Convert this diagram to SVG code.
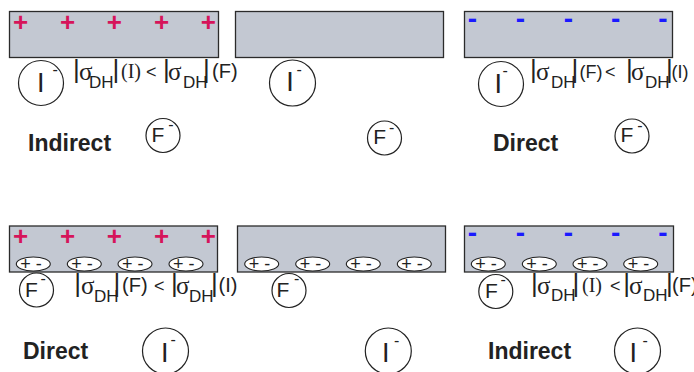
<svg xmlns="http://www.w3.org/2000/svg" width="694" height="372" viewBox="0 0 694 372">
<style>
.slab{fill:#c3c8d2;stroke:#2b2b2b;stroke-width:1.3}
.pl{font-family:"Liberation Sans",Arial,sans-serif;font-weight:bold;font-size:26px;fill:#d6145a;text-anchor:middle}
.mi{font-family:"Liberation Sans",Arial,sans-serif;font-weight:bold;font-size:28px;fill:#1a1aff;text-anchor:middle}
.ion{fill:#fff;stroke:#222;stroke-width:1.2}
.dip{fill:#fff;stroke:#222;stroke-width:1.1}
.dt{font-family:"Liberation Sans",Arial,sans-serif;font-size:18px;fill:#222}
.big{font-family:"Liberation Sans",Arial,sans-serif;font-size:27px;fill:#222}
.fF{font-family:"Liberation Sans",Arial,sans-serif;font-size:21px;fill:#222}
.sup{font-family:"Liberation Sans",Arial,sans-serif;font-size:16px;fill:#222}
.lab{font-family:"Liberation Sans",Arial,sans-serif;font-weight:bold;font-size:23px;fill:#222}
.fm{font-family:"Liberation Sans",Arial,sans-serif;font-size:20px;fill:#222}
.fs{font-family:"Liberation Sans",Arial,sans-serif;font-size:18px;fill:#222}
.bar{font-family:"Liberation Sans",Arial,sans-serif;font-size:26px;fill:#222}
.sig{font-family:"Liberation Serif","Times New Roman",serif;font-size:25px;fill:#222}
.sub{font-family:"Liberation Sans",Arial,sans-serif;font-size:17px;fill:#222}
.ser{font-family:"Liberation Serif","Times New Roman",serif;font-size:20px;fill:#222}
.lt{font-family:"Liberation Sans",Arial,sans-serif;font-size:18px;fill:#222}
</style>

<!-- Top left panel -->
<g id="slab-top-left">
<rect class="slab" x="9.5" y="11.5" width="209" height="46"/>
<text class="pl" x="20.7" y="31">+</text>
<text class="pl" x="67.7" y="31">+</text>
<text class="pl" x="114.3" y="31">+</text>
<text class="pl" x="161.5" y="31">+</text>
<text class="pl" x="208.3" y="31">+</text>
</g>
<g id="iodide-top-left">
<circle class="ion" cx="41" cy="83" r="22.5"/>
<text class="big" x="37" y="92">I</text>
<text class="sup" x="52.5" y="75.2">-</text>
</g>
<g id="formula-top-left">
<text class="bar" x="73" y="78">|</text>
<text class="sig" x="79" y="80">σ</text>
<text class="sub" x="89" y="88">DH</text>
<text class="bar" x="112.6" y="78">|</text>
<text class="ser" x="121" y="78">(I)</text>
<text class="lt" x="146" y="78">&lt;</text>
<text class="bar" x="163" y="78">|</text>
<text class="sig" x="168" y="80">σ</text>
<text class="sub" x="183" y="88">DH</text>
<text class="bar" x="203" y="78">|</text>
<text class="fm" x="212" y="78">(F)</text>
</g>
<g id="label-top-left"><text class="lab" x="28" y="150.5">Indirect</text></g>
<g id="fluoride-top-left">
<circle class="ion" cx="163" cy="135.5" r="17"/>
<text class="fF" x="151.6" y="141.5">F</text>
<text class="sup" x="168.2" y="130.2">-</text>
</g>

<!-- Top middle panel -->
<g id="slab-top-middle">
<rect class="slab" x="235.5" y="11.5" width="208" height="46"/>
</g>
<g id="iodide-top-middle">
<circle class="ion" cx="292.5" cy="83" r="23"/>
<text class="big" x="286.2" y="91">I</text>
<text class="sup" x="296.5" y="74.9">-</text>
</g>
<g id="fluoride-top-middle">
<circle class="ion" cx="384.5" cy="138" r="17"/>
<text class="fF" x="373.3" y="144">F</text>
<text class="sup" x="388.9" y="132.6">-</text>
</g>

<!-- Top right panel -->
<g id="slab-top-right">
<rect class="slab" x="464.5" y="11.5" width="208" height="46"/>
<text class="mi" x="472.3" y="27.5">-</text>
<text class="mi" x="520.3" y="27.5">-</text>
<text class="mi" x="568.3" y="27.5">-</text>
<text class="mi" x="615.7" y="27.5">-</text>
<text class="mi" x="663" y="27.5">-</text>
</g>
<g id="iodide-top-right">
<circle class="ion" cx="501" cy="84" r="22.5"/>
<text class="big" x="494.5" y="93">I</text>
<text class="sup" x="502.5" y="76.1">-</text>
</g>
<g id="formula-top-right">
<text class="bar" x="530" y="78">|</text>
<text class="sig" x="536" y="80">σ</text>
<text class="sub" x="551" y="88">DH</text>
<text class="bar" x="571.6" y="78">|</text>
<text class="fs" x="579.5" y="78">(F)</text>
<text class="lt" x="605" y="78">&lt;</text>
<text class="bar" x="626" y="78">|</text>
<text class="sig" x="631" y="80">σ</text>
<text class="sub" x="645" y="88">DH</text>
<text class="bar" x="666" y="78">|</text>
<text class="fs" x="671.5" y="78">(I)</text>
</g>
<g id="label-top-right"><text class="lab" x="493" y="150.5">Direct</text></g>
<g id="fluoride-top-right">
<circle class="ion" cx="632" cy="136" r="17"/>
<text class="fF" x="620.6" y="142">F</text>
<text class="sup" x="637.2" y="130.6">-</text>
</g>

<!-- Bottom left panel -->
<g id="slab-bottom-left">
<rect class="slab" x="9.5" y="226" width="208" height="46"/>
<text class="pl" x="20.7" y="245">+</text>
<text class="pl" x="67.7" y="245">+</text>
<text class="pl" x="114.3" y="245">+</text>
<text class="pl" x="161.5" y="245">+</text>
<text class="pl" x="208.3" y="245">+</text>
<ellipse class="dip" cx="33.3" cy="264" rx="17" ry="7"/>
<ellipse class="dip" cx="84.3" cy="264" rx="17" ry="7"/>
<ellipse class="dip" cx="135" cy="264" rx="17" ry="7"/>
<ellipse class="dip" cx="186" cy="264" rx="17" ry="7"/>
<text class="dt" x="20.3" y="269.5">+ -</text>
<text class="dt" x="71.3" y="269.5">+ -</text>
<text class="dt" x="122" y="269.5">+ -</text>
<text class="dt" x="173" y="269.5">+ -</text>
</g>
<g id="fluoride-bottom-left">
<circle class="ion" cx="36.5" cy="290" r="17"/>
<text class="fF" x="25" y="296.5">F</text>
<text class="sup" x="40.5" y="283.6">-</text>
</g>
<g id="formula-bottom-left">
<text class="bar" x="74.3" y="292">|</text>
<text class="sig" x="81" y="294">σ</text>
<text class="sub" x="94" y="302">DH</text>
<text class="bar" x="113.6" y="292">|</text>
<text class="fm" x="122" y="292">(F)</text>
<text class="lt" x="154" y="292">&lt;</text>
<text class="bar" x="171" y="292">|</text>
<text class="sig" x="176" y="294">σ</text>
<text class="sub" x="189" y="302">DH</text>
<text class="bar" x="211" y="292">|</text>
<text class="fm" x="218.5" y="292">(I)</text>
</g>
<g id="label-bottom-left"><text class="lab" x="23" y="358.5">Direct</text></g>
<g id="iodide-bottom-left">
<circle class="ion" cx="165.5" cy="351" r="23"/>
<text class="big" x="161" y="362">I</text>
<text class="sup" x="170.5" y="345.1">-</text>
</g>

<!-- Bottom middle panel -->
<g id="slab-bottom-middle">
<rect class="slab" x="237.5" y="226" width="208" height="46"/>
<ellipse class="dip" cx="261.7" cy="264" rx="17" ry="7"/>
<ellipse class="dip" cx="312.7" cy="264" rx="17" ry="7"/>
<ellipse class="dip" cx="363.3" cy="264" rx="17" ry="7"/>
<ellipse class="dip" cx="414.3" cy="264" rx="17" ry="7"/>
<text class="dt" x="248.7" y="269.5">+ -</text>
<text class="dt" x="299.7" y="269.5">+ -</text>
<text class="dt" x="350.3" y="269.5">+ -</text>
<text class="dt" x="401.3" y="269.5">+ -</text>
</g>
<g id="fluoride-bottom-middle">
<circle class="ion" cx="289" cy="290.5" r="17"/>
<text class="fF" x="276.6" y="297">F</text>
<text class="sup" x="293.9" y="283.6">-</text>
</g>
<g id="iodide-bottom-middle">
<circle class="ion" cx="388.3" cy="351" r="23"/>
<text class="big" x="382" y="362">I</text>
<text class="sup" x="394" y="345.6">-</text>
</g>

<!-- Bottom right panel -->
<g id="slab-bottom-right">
<rect class="slab" x="464.5" y="226" width="209" height="46"/>
<text class="mi" x="472.3" y="241.5">-</text>
<text class="mi" x="520.3" y="241.5">-</text>
<text class="mi" x="568.3" y="241.5">-</text>
<text class="mi" x="615.7" y="241.5">-</text>
<text class="mi" x="663" y="241.5">-</text>
<ellipse class="dip" cx="488.3" cy="264" rx="17" ry="7"/>
<ellipse class="dip" cx="539.3" cy="264" rx="17" ry="7"/>
<ellipse class="dip" cx="590" cy="264" rx="17" ry="7"/>
<ellipse class="dip" cx="640.7" cy="264" rx="17" ry="7"/>
<text class="dt" x="475.3" y="269.5">+ -</text>
<text class="dt" x="526.3" y="269.5">+ -</text>
<text class="dt" x="577" y="269.5">+ -</text>
<text class="dt" x="627.7" y="269.5">+ -</text>
</g>
<g id="fluoride-bottom-right">
<circle class="ion" cx="495.8" cy="291.5" r="17"/>
<text class="fF" x="485" y="298">F</text>
<text class="sup" x="500.5" y="285.1">-</text>
</g>
<g id="formula-bottom-right">
<text class="bar" x="531" y="292">|</text>
<text class="sig" x="537" y="294">σ</text>
<text class="sub" x="551" y="301">DH</text>
<text class="bar" x="572.6" y="292">|</text>
<text class="ser" x="582" y="292">(I)</text>
<text class="lt" x="610" y="292">&lt;</text>
<text class="bar" x="623.3" y="292">|</text>
<text class="sig" x="629" y="294">σ</text>
<text class="sub" x="643" y="301">DH</text>
<text class="bar" x="666" y="292">|</text>
<text class="fm" x="672" y="292">(F)</text>
</g>
<g id="label-bottom-right"><text class="lab" x="488" y="358.5">Indirect</text></g>
<g id="iodide-bottom-right">
<circle class="ion" cx="637.5" cy="351" r="23"/>
<text class="big" x="629.5" y="362">I</text>
<text class="sup" x="642.5" y="345.6">-</text>
</g>
<g id="connectors"/>
</svg>
